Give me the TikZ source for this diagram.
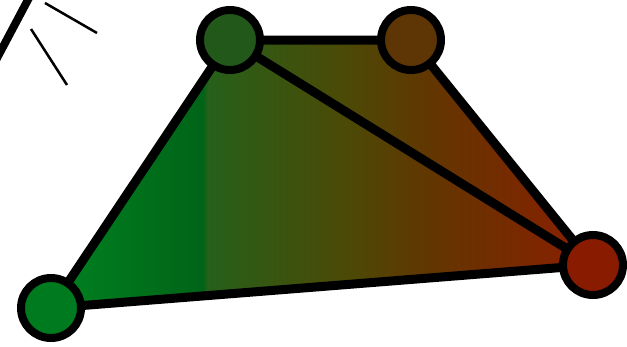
\documentclass[tikz,border=0pt]{standalone}
\usetikzlibrary{shadings}
\definecolor{gA}{RGB}{0,130,32}
\definecolor{gB}{RGB}{0,100,24}
\definecolor{gC}{RGB}{38,96,26}
\definecolor{gD}{RGB}{75,74,6}
\definecolor{gE}{RGB}{98,54,0}
\definecolor{gF}{RGB}{140,30,0}
\definecolor{cA}{RGB}{0,122,30}
\definecolor{cB}{RGB}{34,89,26}
\definecolor{cC}{RGB}{94,54,6}
\definecolor{cD}{RGB}{137,28,0}
\pgfdeclarehorizontalshading{quadshade}{100bp}{%
  color(0bp)=(gA); color(25bp)=(gA); color(39bp)=(gB); color(39.4bp)=(gC);
  color(52bp)=(gD); color(60bp)=(gE); color(75bp)=(gF); color(100bp)=(gF)}
\tikzset{
  vert/.style={circle, draw=black, line width=8pt, minimum size=60pt, inner sep=0pt},
  edge/.style={draw=black, line width=9pt, line join=round},
  thick stroke/.style={draw=black, line width=8pt},
  thin stroke/.style={draw=black, line width=2.5pt},
}
\begin{document}
\begin{tikzpicture}[x=1pt,y=-1pt]
\useasboundingbox (0,0) rectangle (627,346);
\coordinate (pA) at (51,308);
\coordinate (pB) at (230,40);
\coordinate (pC) at (411,40);
\coordinate (pD) at (593,265);
\shade[shading=quadshade] (pA) -- (pB) -- (pC) -- (pD) -- cycle;
\draw[edge] (pA) -- (pB) -- (pC) -- (pD) -- cycle;
\draw[edge] (pB) -- (pD);
\node[vert, fill=cA] (a) at (pA) {};
\node[vert, fill=cB] (b) at (pB) {};
\node[vert, fill=cC] (c) at (pC) {};
\node[vert, fill=cD] (d) at (pD) {};
\coordinate (s1) at (30,-4);
\coordinate (s2) at (-4,60);
\coordinate (t1) at (45,3);
\coordinate (t2) at (97,33);
\coordinate (u1) at (31,29);
\coordinate (u2) at (67,85);
\draw[thick stroke] (s1) -- (s2);
\draw[thin stroke] (t1) -- (t2);
\draw[thin stroke] (u1) -- (u2);
\end{tikzpicture}
\end{document}
